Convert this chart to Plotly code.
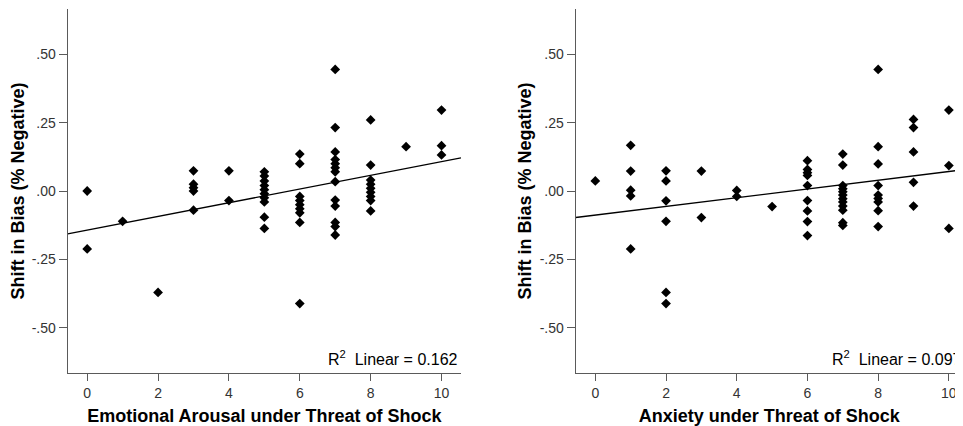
import plotly.graph_objects as go

# Left panel: Emotional Arousal under Threat of Shock
arousal_x = [0, 0, 1, 2,
             3, 3, 3, 3, 3,
             4, 4,
             5, 5, 5, 5, 5, 5, 5, 5, 5, 5,
             6, 6, 6, 6, 6, 6, 6, 6, 6,
             7, 7, 7, 7, 7, 7, 7, 7, 7, 7, 7, 7, 7,
             8, 8, 8, 8, 8, 8, 8, 8, 8,
             9,
             10, 10, 10]
arousal_y = [0.000, -0.212, -0.111, -0.371,
             0.074, 0.025, 0.012, 0.000, -0.070,
             0.074, -0.035,
             0.070, 0.055, 0.037, 0.020, 0.005, -0.010, -0.025, -0.040, -0.096, -0.137,
             0.135, 0.100, -0.020, -0.035, -0.050, -0.065, -0.080, -0.115, -0.412,
             0.445, 0.232, 0.143, 0.115, 0.100, 0.085, 0.070, 0.034, -0.033, -0.055, -0.115, -0.130, -0.161,
             0.260, 0.095, 0.040, 0.025, 0.010, -0.005, -0.020, -0.035, -0.073,
             0.162,
             0.296, 0.166, 0.132]
arousal_fit_x = [-0.55, 10.55]
arousal_fit_y = [-0.157, 0.121]
arousal_r2 = "0.162"

# Right panel: Anxiety under Threat of Shock
anxiety_x = [0,
             1, 1, 1, 1, 1,
             2, 2, 2, 2, 2, 2,
             3, 3,
             4, 4,
             5,
             6, 6, 6, 6, 6, 6, 6, 6, 6,
             7, 7, 7, 7, 7, 7, 7, 7, 7, 7, 7, 7,
             8, 8, 8, 8, 8, 8, 8, 8, 8,
             9, 9, 9, 9, 9,
             10, 10, 10]
anxiety_y = [0.037,
             0.167, 0.073, 0.003, -0.018, -0.212,
             0.074, 0.037, -0.036, -0.111, -0.371, -0.412,
             0.073, -0.097,
             0.002, -0.020,
             -0.057,
             0.111, 0.079, 0.067, 0.057, 0.020, -0.035, -0.073, -0.112, -0.163,
             0.135, 0.095, 0.020, 0.008, -0.003, -0.015, -0.028, -0.040, -0.055, -0.070, -0.116, -0.126,
             0.445, 0.162, 0.099, 0.020, -0.015, -0.027, -0.040, -0.072, -0.130,
             0.262, 0.232, 0.143, 0.032, -0.055,
             0.296, 0.093, -0.137]
anxiety_fit_x = [-0.555, 10.55]
anxiety_fit_y = [-0.097, 0.080]
anxiety_r2 = "0.097"

x_ticks = [0, 2, 4, 6, 8, 10]
y_tickvals = [-0.5, -0.25, 0.0, 0.25, 0.5]
y_ticktext = ["-.50", "-.25", ".00", ".25", ".50"]

x_title_left = "Emotional Arousal under Threat of Shock"
x_title_right = "Anxiety under Threat of Shock"
y_title = "Shift in Bias (% Negative)"

FONT = "Liberation Sans, Arial, sans-serif"
AXIS_COL = "#5a5a5a"

# page body has an 8px margin; size the figure so it fills the 963x426 window
OFF = 8
W, H = 963 - OFF, 426 - OFF


def fx(px):
    return (px - OFF) / W


def fy(py):
    return (H - (py - OFF)) / H


fig = go.Figure()
marker = dict(symbol="diamond", size=7.5, color="black", line=dict(width=0))
fig.add_trace(go.Scatter(x=arousal_x, y=arousal_y, mode="markers", marker=marker,
                         xaxis="x", yaxis="y", showlegend=False))
fig.add_trace(go.Scatter(x=arousal_fit_x, y=arousal_fit_y, mode="lines",
                         line=dict(color="black", width=1.3),
                         xaxis="x", yaxis="y", showlegend=False))
fig.add_trace(go.Scatter(x=anxiety_x, y=anxiety_y, mode="markers", marker=marker,
                         xaxis="x2", yaxis="y2", showlegend=False))
fig.add_trace(go.Scatter(x=anxiety_fit_x, y=anxiety_fit_y, mode="lines",
                         line=dict(color="black", width=1.3),
                         xaxis="x2", yaxis="y2", showlegend=False))

ydom = [fy(373), fy(9)]


def xaxis(dom, rng, title, anchor):
    return dict(domain=dom, range=rng, tickvals=x_ticks, ticks="outside", ticklen=7,
                tickcolor=AXIS_COL, showline=True, linecolor=AXIS_COL, linewidth=1.2,
                showgrid=False, zeroline=False, mirror=False, anchor=anchor,
                tickfont=dict(family=FONT, size=14, color="#333"),
                title=dict(text=title, font=dict(family=FONT, size=18, color="black"),
                           standoff=9))


def yaxis(anchor, title):
    return dict(domain=ydom, range=[-0.666, 0.666], tickvals=y_tickvals, ticktext=y_ticktext,
                ticks="outside", ticklen=8, tickcolor=AXIS_COL, showline=True,
                linecolor=AXIS_COL, linewidth=1.2, showgrid=False, zeroline=False,
                anchor=anchor,
                tickfont=dict(family=FONT, size=14, color="#333"),
                title=dict(text=title, font=dict(family=FONT, size=18, color="black"),
                           standoff=3))


fig.update_layout(
    width=W, height=H,
    margin=dict(l=0, r=0, t=0, b=0),
    plot_bgcolor="white", paper_bgcolor="white",
    xaxis=xaxis([fx(67.7), fx(461)], [-0.55, 10.55], "<b>" + x_title_left + "</b>", "y"),
    yaxis=yaxis("x", "<b>" + y_title + "</b>"),
    xaxis2=xaxis([fx(575.7), 1.0], [-0.555, 10.40], "<b>" + x_title_right + "</b>", "y2"),
    yaxis2=yaxis("x2", "<b>" + y_title + "</b>"),
    annotations=[
        dict(text="R<sup>2</sup>  Linear = " + arousal_r2, xref="paper", yref="paper",
             x=fx(460), y=fy(370), xanchor="right", yanchor="bottom", showarrow=False,
             font=dict(family=FONT, size=16, color="black")),
        dict(text="R<sup>2</sup>  Linear = " + anxiety_r2, xref="paper", yref="paper",
             x=fx(964), y=fy(370), xanchor="right", yanchor="bottom", showarrow=False,
             font=dict(family=FONT, size=16, color="black")),
    ],
)

fig.write_html("out.html")
